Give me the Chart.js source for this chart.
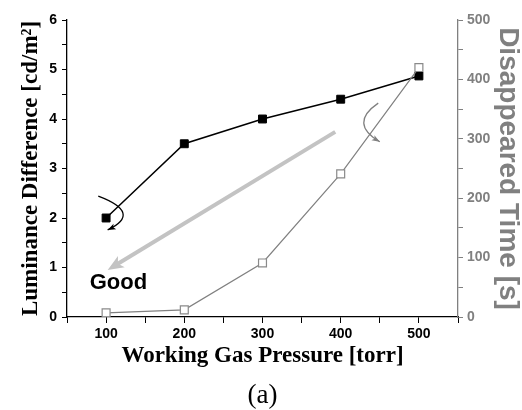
<!DOCTYPE html>
<html>
<head>
<meta charset="utf-8">
<script src="https://cdn.jsdelivr.net/npm/chart.js@4/dist/chart.umd.min.js"></script>
<style>
  html, body { margin: 0; padding: 0; background: #fff; }
  #wrap { width: 522px; height: 410px; position: relative; }
</style>
</head>
<body>
<div id="wrap"><canvas id="chart"></canvas></div>
<script>
// values
const pressure = [100, 200, 300, 400, 500];
const luminance = [2.0, 3.5, 4.0, 4.4, 4.87];
const disappearedTime = [7, 12, 91, 241, 420];

const xTickLabels = [100, 200, 300, 400, 500];
const yTickLabels = [0, 1, 2, 3, 4, 5, 6];
const y2TickLabels = [0, 100, 200, 300, 400, 500];

// annotation anchors, in data units (x: torr, y: left axis)
const goodArrow = { from: [393, 3.74], to: [102, 0.95] };
const goodLabel = { at: [79, 0.69], text: 'Good' };
const blackCurl = { from: [90, 2.44], ctrl: [147, 2.1], to: [102, 1.76] };
const greyCurl = { from: [448, 4.32], ctrl: [410, 3.91], to: [450, 3.54] };

const GREY = '#808080';

function arrowHead(ctx, x, y, angle, len, wid, color) {
  ctx.save();
  ctx.translate(x, y);
  ctx.rotate(angle);
  ctx.fillStyle = color;
  ctx.beginPath();
  ctx.moveTo(0, 0);
  ctx.lineTo(-len, -wid / 2);
  ctx.lineTo(-len * 0.75, 0);
  ctx.lineTo(-len, wid / 2);
  ctx.closePath();
  ctx.fill();
  ctx.restore();
}

const annotations = {
  id: 'annotations',
  afterDatasetsDraw(chart) {
    const { ctx, scales: { x, y } } = chart;
    const px = p => [x.getPixelForValue(p[0]), y.getPixelForValue(p[1])];
    ctx.save();

    // big grey "Good" arrow
    const [ax0, ay0] = px(goodArrow.from);
    const [ax1, ay1] = px(goodArrow.to);
    const ang = Math.atan2(ay1 - ay0, ax1 - ax0);
    ctx.strokeStyle = '#c3c3c3';
    ctx.lineWidth = 4;
    ctx.beginPath();
    ctx.moveTo(ax0, ay0);
    ctx.lineTo(ax1 - Math.cos(ang) * 10, ay1 - Math.sin(ang) * 10);
    ctx.stroke();
    arrowHead(ctx, ax1, ay1, ang, 16, 13, '#c3c3c3');

    // curls
    [[blackCurl, '#000', 1.3], [greyCurl, GREY, 1.3]].forEach(([c, col, w]) => {
      const [s0, s1] = px(c.from);
      const [c0, c1] = px(c.ctrl);
      const [e0, e1] = px(c.to);
      ctx.strokeStyle = col;
      ctx.lineWidth = w;
      ctx.beginPath();
      ctx.moveTo(s0, s1);
      ctx.quadraticCurveTo(c0, c1, e0, e1);
      ctx.stroke();
      arrowHead(ctx, e0, e1, Math.atan2(e1 - c1, e0 - c0), 8, 6, col);
    });

    // "Good" label
    const [gx, gy] = px(goodLabel.at);
    ctx.fillStyle = '#000';
    ctx.font = 'bold 22px "Liberation Sans", Arial, sans-serif';
    ctx.textAlign = 'left';
    ctx.textBaseline = 'middle';
    ctx.fillText(goodLabel.text, gx, gy);

    // "(a)" caption
    ctx.font = '27px "Liberation Serif", "Times New Roman", serif';
    ctx.textAlign = 'center';
    ctx.fillText('(a)', (x.left + x.right) / 2, 396);
    ctx.restore();
  }
};

const tickFont = { family: '"Liberation Sans", Arial, sans-serif', size: 14, weight: 'bold' };
const serifTitle = { family: '"Liberation Serif", "Times New Roman", serif', size: 23, weight: 'bold' };

new Chart(document.getElementById('chart'), {
  type: 'line',
  data: {
    datasets: [
      {
        label: 'Luminance Difference',
        data: pressure.map((p, i) => ({ x: p, y: luminance[i] })),
        yAxisID: 'y',
        borderColor: '#000',
        borderWidth: 1.5,
        pointStyle: 'rect',
        pointRadius: 5.6,
        pointBackgroundColor: '#000',
        pointBorderColor: '#000',
        pointBorderWidth: 1,
        order: 2,
      },
      {
        label: 'Disappeared Time',
        data: pressure.map((p, i) => ({ x: p, y: disappearedTime[i] })),
        yAxisID: 'y2',
        borderColor: GREY,
        borderWidth: 1.2,
        pointStyle: 'rect',
        pointRadius: 5.6,
        pointBackgroundColor: '#fff',
        pointBorderColor: '#8a8a8a',
        pointBorderWidth: 1.2,
        order: 1,
      },
    ],
  },
  options: {
    responsive: true,
    maintainAspectRatio: false,
    animation: false,
    layout: { padding: { top: 20, bottom: 40, left: 0, right: 0 } },
    plugins: { legend: { display: false }, tooltip: { enabled: false } },
    scales: {
      x: {
        type: 'linear',
        min: 50, max: 550,
        afterFit: s => { s.height = 53; },
        border: { color: '#000', width: 1.3 },
        grid: { drawOnChartArea: false, tickLength: 6, color: '#000', tickColor: '#000' },
        ticks: {
          stepSize: 50, autoSkip: false, maxRotation: 0, padding: 3,
          color: '#000', font: tickFont,
          callback: v => xTickLabels.includes(v) ? String(v) : '',
        },
        title: { display: true, text: 'Working Gas Pressure [torr]', color: '#000', font: serifTitle, padding: 0 },
      },
      y: {
        position: 'left',
        min: 0, max: 6,
        afterFit: s => { s.width = 67; },
        border: { color: '#000', width: 1.3 },
        grid: { drawOnChartArea: false, tickLength: 5, color: '#000', tickColor: '#000' },
        ticks: {
          stepSize: 0.5, autoSkip: false, padding: 5,
          color: '#000', font: tickFont,
          callback: v => yTickLabels.includes(v) ? String(v) : '',
        },
        title: { display: true, text: 'Luminance Difference [cd/m²]', color: '#000', font: serifTitle, padding: { top: 17, bottom: 0 } },
      },
      y2: {
        position: 'right',
        min: 0, max: 500,
        afterFit: s => { s.width = 64; },
        border: { color: GREY, width: 1.3 },
        grid: { drawOnChartArea: false, tickLength: 5, color: GREY, tickColor: GREY },
        ticks: {
          stepSize: 50, autoSkip: false, padding: 4,
          color: GREY, font: tickFont,
          callback: v => y2TickLabels.includes(v) ? String(v) : '',
        },
        title: {
          display: true, text: 'Disappeared Time [s]', color: GREY,
          font: { family: '"Liberation Sans", Arial, sans-serif', size: 28, weight: 'bold', lineHeight: 1 },
          padding: 0,
        },
      },
    },
  },
  plugins: [annotations],
});
</script>
</body>
</html>
